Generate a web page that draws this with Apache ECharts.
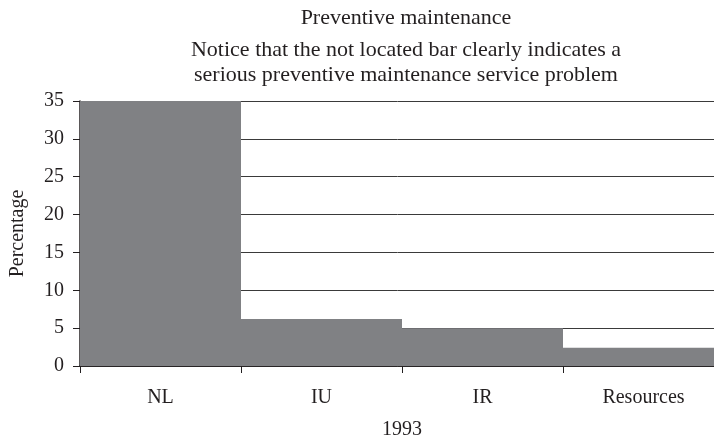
<!DOCTYPE html>
<html>
<head>
<meta charset="utf-8">
<script src="https://cdn.jsdelivr.net/npm/echarts@6/dist/echarts.min.js"></script>
<style>
  html, body { margin: 0; padding: 0; background: #fff; }
  #chart { width: 714px; height: 438px; }
</style>
</head>
<body>
<div id="chart"></div>
<script>
// Share of preventive maintenance records by category, 1993
const categories = ['NL', 'IU', 'IR', 'Resources'];
const percentages = [35, 6.2, 5.0, 2.4];
const yTicks = [0, 5, 10, 15, 20, 25, 30, 35];

const FONT = '"Liberation Serif", "DejaVu Serif", serif';
const INK = '#231f20';

const chart = echarts.init(document.getElementById('chart'), null, { renderer: 'canvas' });

chart.setOption({
  animation: false,
  backgroundColor: '#ffffff',
  title: [
    {
      text: 'Preventive maintenance',
      left: 401, top: 2, textAlign: 'center',
      textStyle: { fontFamily: FONT, fontSize: 22, fontWeight: 'normal', color: INK }
    },
    {
      text: 'Notice that the not located bar clearly indicates a\nserious preventive maintenance service problem',
      left: 401, top: 33, textAlign: 'center',
      textStyle: { fontFamily: FONT, fontSize: 22, fontWeight: 'normal', color: INK, lineHeight: 25 }
    }
  ],
  // the last category runs slightly past the right edge of the canvas
  grid: { left: 80, width: 644, top: 101, bottom: 72, outerBoundsMode: 'none', containLabel: false },
  xAxis: {
    type: 'category',
    data: categories,
    name: '1993',
    nameLocation: 'middle',
    nameGap: 54,
    nameTextStyle: { fontFamily: FONT, fontSize: 20, color: INK },
    axisLine: { lineStyle: { color: INK, width: 1.5 } },
    axisTick: { show: true, alignWithLabel: false, length: 7, lineStyle: { color: INK, width: 1 } },
    axisLabel: { fontFamily: FONT, fontSize: 20, color: INK, margin: 22 }
  },
  yAxis: {
    type: 'value',
    min: yTicks[0],
    max: yTicks[yTicks.length - 1],
    interval: 5,
    name: 'Percentage',
    nameLocation: 'middle',
    nameGap: 52,
    nameRotate: 90,
    nameTextStyle: { fontFamily: FONT, fontSize: 20, color: INK },
    axisLine: { show: true, lineStyle: { color: INK, width: 1.5 } },
    axisTick: { show: true, length: 7, lineStyle: { color: INK, width: 1 } },
    axisLabel: { fontFamily: FONT, fontSize: 20, color: INK, margin: 16 },
    splitLine: { show: true, lineStyle: { color: '#3a3a3a', width: 1 } }
  },
  series: [{
    type: 'bar',
    data: percentages,
    barWidth: '100%',
    barCategoryGap: '0%',
    itemStyle: { color: '#808184' },
    z: 3
  }]
});
</script>
</body>
</html>
